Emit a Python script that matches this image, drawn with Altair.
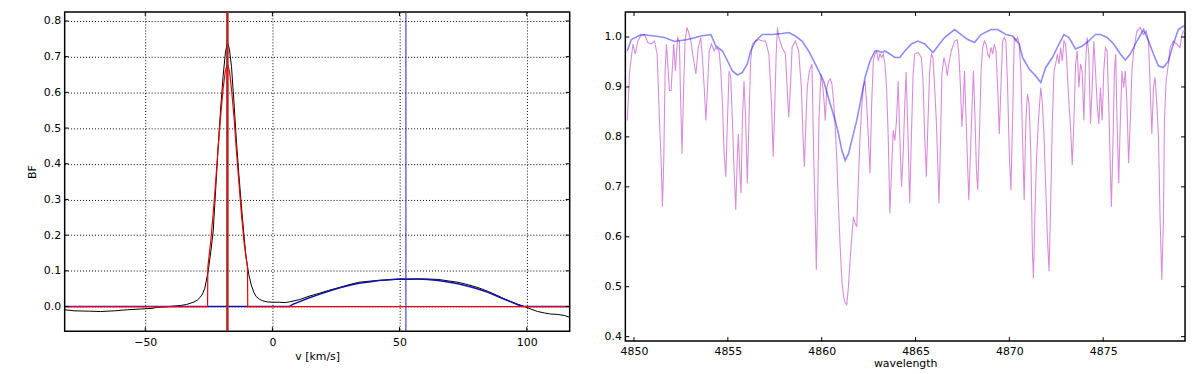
import altair as alt
import pandas as pd

# ---------------- Left panel: broadening function ----------------
bf_points = [(-81.7, -0.009), (-78, -0.012), (-72, -0.013), (-67.6, -0.014), (-62, -0.012), (-57, -0.009),
             (-52, -0.007), (-47, -0.005), (-45.5, -0.002), (-42, -0.001), (-39, 0.001), (-36, 0.003),
             (-33.7, 0.006), (-31.1, 0.012), (-29.5, 0.018), (-28.5, 0.025), (-27.5, 0.035), (-26.6, 0.051),
             (-25.3, 0.097), (-24.3, 0.15), (-23.3, 0.209), (-22.3, 0.33), (-21.4, 0.44), (-20.4, 0.55),
             (-19.4, 0.645), (-18.5, 0.71), (-17.7, 0.742), (-16.9, 0.72), (-16.1, 0.673), (-15.1, 0.57),
             (-14.2, 0.469), (-13.2, 0.37), (-12.2, 0.283), (-11.2, 0.2), (-10.3, 0.135), (-9.3, 0.09),
             (-8.3, 0.06), (-7.3, 0.04), (-6.4, 0.028), (-5, 0.02), (-3.8, 0.016), (-2, 0.013), (0, 0.012),
             (2.7, 0.012), (5, 0.011), (6.6, 0.013), (8.5, 0.016), (10.5, 0.019), (14, 0.028), (18.4, 0.037),
             (22, 0.045), (26.2, 0.053), (30, 0.061), (34, 0.068), (38, 0.071), (41.8, 0.073), (46, 0.075),
             (49.6, 0.076), (53, 0.076), (57.4, 0.077), (61, 0.077), (65.2, 0.076), (69, 0.072), (73, 0.068),
             (77, 0.061), (80.9, 0.053), (85, 0.042), (88.7, 0.030), (91, 0.022), (93.8, 0.014), (96.5, 0.006),
             (99.2, 0.0), (102, -0.008), (104.3, -0.014), (107, -0.018), (109.4, -0.021), (112, -0.022),
             (114.8, -0.025), (116.9, -0.03)]
fit_blue_points = [(-81.7, 0), (6.6, 0), (8, 0.006), (10.5, 0.013), (14, 0.023), (18.4, 0.034), (22, 0.043),
                   (26.2, 0.052), (30, 0.059), (34, 0.065), (38, 0.069), (41.8, 0.073), (46, 0.075),
                   (49.6, 0.077), (53, 0.077), (57.4, 0.077), (61, 0.076), (65.2, 0.073), (69, 0.069),
                   (73, 0.064), (77, 0.057), (80.9, 0.049), (85, 0.039), (88.7, 0.028), (91, 0.021),
                   (93.8, 0.013), (96.5, 0.005), (98.8, 0), (116.9, 0)]
fit_red_points = [(-81.7, 0), (-25.5, 0), (-25.4, 0.11), (-24.3, 0.18), (-23.3, 0.26), (-22.3, 0.35),
                  (-21.4, 0.44), (-20.4, 0.53), (-19.4, 0.61), (-18.5, 0.66), (-17.7, 0.68), (-16.9, 0.66),
                  (-16.1, 0.61), (-15.1, 0.53), (-14.2, 0.44), (-13.2, 0.35), (-12.2, 0.26), (-11.0, 0.17),
                  (-9.8, 0.11), (-9.7, 0), (116.9, 0)]
rv_red = [-17.7]
rv_blue = [52.5]
left_xticks = [-50, 0, 50, 100]
left_yticks = [0.0, 0.1, 0.2, 0.3, 0.4, 0.5, 0.6, 0.7, 0.8]

# ---------------- Right panel: spectra ----------------
pink_points = [
    (4849.645, 0.833), (4849.769, 0.932), (4849.945, 0.986), (4850.069, 0.966), (4850.21, 0.992),
    (4850.351, 1.002), (4850.563, 1.005), (4850.74, 0.989), (4850.916, 0.986), (4851.093, 0.992),
    (4851.234, 0.966), (4851.358, 0.833), (4851.446, 0.753), (4851.517, 0.660), (4851.587, 0.753),
    (4851.658, 0.932), (4851.729, 0.986), (4851.799, 0.946), (4851.888, 0.893), (4851.976, 0.893),
    (4852.064, 0.952), (4852.117, 0.986), (4852.206, 0.932), (4852.329, 0.999), (4852.418, 0.992),
    (4852.47, 0.899), (4852.559, 0.766), (4852.647, 0.899), (4852.718, 0.992), (4852.824, 1.019),
    (4852.947, 1.005), (4853.036, 0.992), (4853.124, 0.966), (4853.301, 0.926), (4853.424, 0.979),
    (4853.565, 0.999), (4853.654, 0.952), (4853.742, 0.899), (4853.83, 0.833), (4853.919, 0.899),
    (4854.007, 0.972), (4854.131, 0.986), (4854.272, 0.972),
    (4854.361, 0.979), (4854.538, 0.972), (4854.626, 0.932), (4854.714, 0.866), (4854.803, 0.766),
    (4854.891, 0.720), (4854.979, 0.833), (4855.067, 0.932), (4855.156, 0.919), (4855.244, 0.833),
    (4855.332, 0.733), (4855.421, 0.654), (4855.509, 0.766), (4855.562, 0.806), (4855.633, 0.733),
    (4855.703, 0.687), (4855.774, 0.833), (4855.862, 0.912), (4855.95, 0.833), (4856.039, 0.707),
    (4856.127, 0.833), (4856.215, 0.952), (4856.304, 0.986), (4856.48, 0.992), (4856.657, 0.995),
    (4856.833, 0.992), (4857.01, 0.992), (4857.187, 0.966), (4857.328, 0.866), (4857.416, 0.760),
    (4857.504, 0.866), (4857.575, 0.966), (4857.646, 1.019), (4857.716, 0.999), (4857.893, 0.979),
    (4858.07, 0.966), (4858.158, 0.899), (4858.246, 0.839), (4858.335, 0.899), (4858.423, 0.979),
    (4858.599, 0.992), (4858.776, 0.972), (4858.917, 0.899), (4859.006, 0.800), (4859.076, 0.740),
    (4859.165, 0.833), (4859.235, 0.899), (4859.341, 0.932), (4859.482, 0.946),
    (4859.573, 0.766), (4859.661, 0.634), (4859.714, 0.534), (4859.785, 0.667), (4859.855, 0.833),
    (4859.961, 0.926), (4860.067, 0.899), (4860.138, 0.866), (4860.191, 0.833), (4860.279, 0.899),
    (4860.367, 0.912), (4860.456, 0.916), (4860.544, 0.906), (4860.632, 0.873), (4860.721, 0.820),
    (4860.809, 0.753), (4860.897, 0.660), (4860.985, 0.581), (4861.074, 0.514), (4861.162, 0.481),
    (4861.25, 0.468), (4861.339, 0.464), (4861.427, 0.501), (4861.515, 0.554), (4861.604, 0.600),
    (4861.692, 0.640), (4861.78, 0.627), (4861.868, 0.620), (4861.957, 0.713), (4862.045, 0.800),
    (4862.133, 0.859), (4862.222, 0.899), (4862.31, 0.912), (4862.398, 0.866), (4862.487, 0.800),
    (4862.575, 0.727), (4862.663, 0.866), (4862.751, 0.952), (4862.84, 0.966), (4862.928, 0.972),
    (4863.016, 0.952), (4863.105, 0.966), (4863.193, 0.959), (4863.281, 0.966), (4863.37, 0.946),
    (4863.458, 0.899), (4863.546, 0.800), (4863.634, 0.647), (4863.723, 0.733), (4863.811, 0.813),
    (4863.899, 0.793), (4863.988, 0.833), (4864.076, 0.912), (4864.164, 0.800), (4864.253, 0.700),
    (4864.341, 0.766), (4864.429, 0.866), (4864.5, 0.93), (4864.6, 0.80), (4864.69, 0.667),
    (4864.78, 0.80), (4864.872, 0.926),
    (4864.96, 0.966), (4865.136, 0.969), (4865.313, 0.959), (4865.401, 0.912), (4865.49, 0.800),
    (4865.578, 0.720), (4865.666, 0.833), (4865.755, 0.932), (4865.843, 0.966), (4865.931, 0.959),
    (4866.019, 0.899), (4866.108, 0.833), (4866.196, 0.733), (4866.249, 0.667), (4866.337, 0.800),
    (4866.408, 0.926), (4866.514, 0.959), (4866.638, 0.939), (4866.69, 0.922), (4866.779, 0.946),
    (4866.902, 0.972), (4867.079, 0.992), (4867.22, 0.995), (4867.309, 0.966), (4867.397, 0.899),
    (4867.468, 0.820), (4867.538, 0.866), (4867.609, 0.932), (4867.697, 0.833), (4867.785, 0.733),
    (4867.838, 0.673), (4867.927, 0.766), (4868.015, 0.866), (4868.086, 0.932), (4868.174, 0.833),
    (4868.245, 0.733), (4868.315, 0.693), (4868.404, 0.800), (4868.492, 0.932), (4868.58, 0.979),
    (4868.668, 0.992), (4868.757, 0.986), (4868.845, 0.966), (4868.933, 0.959), (4869.022, 0.979),
    (4869.11, 0.966), (4869.198, 0.986), (4869.287, 0.972), (4869.375, 0.899), (4869.463, 0.806),
    (4869.551, 0.899), (4869.64, 0.992), (4869.728, 0.999),
    (4869.818, 0.992), (4869.907, 0.899), (4869.995, 0.766), (4870.083, 0.693), (4870.171, 0.833),
    (4870.26, 0.999), (4870.348, 0.992), (4870.436, 0.999), (4870.525, 0.986), (4870.613, 0.932),
    (4870.701, 0.800), (4870.79, 0.673), (4870.878, 0.833), (4870.966, 0.886), (4871.054, 0.866),
    (4871.143, 0.766), (4871.231, 0.567), (4871.284, 0.517), (4871.355, 0.634), (4871.443, 0.753),
    (4871.549, 0.833), (4871.673, 0.899), (4871.761, 0.866), (4871.849, 0.800), (4871.937, 0.700),
    (4872.026, 0.600), (4872.114, 0.531), (4872.202, 0.667), (4872.291, 0.833), (4872.379, 0.932),
    (4872.467, 0.946), (4872.556, 0.966), (4872.644, 0.946), (4872.732, 0.979), (4872.82, 0.952),
    (4872.909, 0.992), (4872.997, 0.986), (4873.085, 0.932), (4873.174, 0.866), (4873.262, 0.820),
    (4873.35, 0.743), (4873.439, 0.833), (4873.527, 0.946), (4873.615, 0.972), (4873.703, 0.899),
    (4873.792, 0.946), (4873.88, 0.932), (4873.968, 0.833), (4874.057, 0.946), (4874.145, 0.999),
    (4874.233, 0.966), (4874.322, 0.826), (4874.41, 0.899),
    (4874.5, 0.992), (4874.588, 0.932), (4874.677, 0.866), (4874.765, 0.826), (4874.853, 0.899),
    (4874.942, 0.833), (4875.03, 0.932), (4875.118, 0.979), (4875.206, 0.972), (4875.295, 0.866),
    (4875.383, 0.733), (4875.436, 0.660), (4875.507, 0.766), (4875.595, 0.932), (4875.666, 0.966),
    (4875.736, 0.833), (4875.825, 0.707), (4875.913, 0.833), (4876.001, 0.932), (4876.089, 0.899),
    (4876.178, 0.932), (4876.266, 0.866), (4876.354, 0.747), (4876.443, 0.833), (4876.531, 0.932),
    (4876.619, 0.972), (4876.708, 0.992), (4876.796, 1.012), (4876.972, 1.019), (4877.149, 1.005),
    (4877.29, 1.012), (4877.414, 0.992), (4877.502, 0.899), (4877.591, 0.806), (4877.679, 0.899),
    (4877.767, 0.919), (4877.855, 0.866), (4877.944, 0.800), (4878.032, 0.634), (4878.12, 0.514),
    (4878.209, 0.634), (4878.262, 0.833), (4878.35, 0.912), (4878.474, 0.946), (4878.562, 0.979),
    (4878.738, 0.992), (4878.915, 0.986), (4879.092, 0.979), (4879.18, 1.002), (4879.268, 1.012),
    (4879.357, 1.012)]
blue_points = [
    (4849.645, 0.972), (4849.857, 0.995), (4850.387, 1.005), (4851.093, 1.002), (4851.623, 0.999),
    (4852.153, 0.991), (4852.859, 0.995), (4853.565, 1.002), (4854.095, 1.005),
    (4854.361, 0.982), (4854.714, 0.972), (4855.067, 0.946), (4855.244, 0.932), (4855.509, 0.924),
    (4855.774, 0.929), (4856.039, 0.946), (4856.215, 0.972), (4856.48, 0.992), (4856.833, 1.005),
    (4857.363, 1.005), (4857.893, 1.007), (4858.246, 1.009), (4858.599, 1.002), (4858.952, 0.992),
    (4859.306, 0.972), (4859.749, 0.939), (4860.102, 0.912), (4860.456, 0.866), (4860.721, 0.833),
    (4860.897, 0.806), (4861.074, 0.773), (4861.25, 0.753), (4861.427, 0.766), (4861.604, 0.793),
    (4861.868, 0.833), (4862.045, 0.866), (4862.31, 0.919), (4862.575, 0.952), (4862.84, 0.972),
    (4863.016, 0.972), (4863.193, 0.969), (4863.37, 0.972), (4863.634, 0.966), (4863.899, 0.959),
    (4864.164, 0.959), (4864.429, 0.972), (4864.783, 0.986), (4865.136, 0.992), (4865.49, 0.986),
    (4865.931, 0.969), (4866.196, 0.982), (4866.549, 0.999), (4867.079, 1.015), (4867.432, 1.005),
    (4867.785, 0.995), (4868.139, 0.989), (4868.492, 1.005), (4869.022, 1.015), (4869.375, 1.015),
    (4869.818, 1.005), (4870.171, 1.002), (4870.525, 0.986), (4870.701, 0.959), (4871.054, 0.936),
    (4871.408, 0.922), (4871.673, 0.909), (4871.937, 0.939), (4872.291, 0.959), (4872.644, 0.986),
    (4872.909, 1.005), (4873.174, 0.999), (4873.527, 0.976), (4873.88, 0.982), (4874.233, 0.992),
    (4874.586, 1.005), (4874.853, 1.005), (4875.206, 0.999), (4875.56, 0.986), (4875.913, 0.966),
    (4876.178, 0.954), (4876.443, 0.966), (4876.796, 0.992), (4877.149, 1.015), (4877.414, 0.992),
    (4877.679, 0.966), (4877.944, 0.942), (4878.209, 0.939), (4878.474, 0.952), (4878.738, 0.986),
    (4879.003, 1.015), (4879.268, 1.022), (4879.36, 1.022)]
right_xticks = [4850, 4855, 4860, 4865, 4870, 4875]
right_yticks = [0.4, 0.5, 0.6, 0.7, 0.8, 0.9, 1.0]


def frame(points):
    return pd.DataFrame(points, columns=["x", "y"])


FONT = "DejaVu Sans"
TICK = 4

# ---------- left ----------
LW, LH = 508, 321
xs_l = alt.Scale(domain=[-81.7, 116.9], nice=False, zero=False)
ys_l = alt.Scale(domain=[-0.069, 0.825], nice=False, zero=False)
grid_kw = dict(grid=True, gridDash=[1, 2], gridColor="black", gridOpacity=1, gridWidth=1)
x_l = alt.X("x:Q", scale=xs_l, title="v [km/s]",
            axis=alt.Axis(values=left_xticks, format="d", labelPadding=5, titlePadding=4, **grid_kw))
y_l = alt.Y("y:Q", scale=ys_l, title="BF",
            axis=alt.Axis(values=left_yticks, format=".1f", labelPadding=4, titlePadding=6, **grid_kw))

bf_line = alt.Chart(frame(bf_points)).mark_line(color="black", strokeWidth=1, clip=True).encode(x=x_l, y=y_l)
blue_fit = alt.Chart(frame(fit_blue_points)).mark_line(color="#1010b0", strokeWidth=1.5, clip=True).encode(x=x_l, y=y_l)
red_fit = alt.Chart(frame(fit_red_points)).mark_line(color="#ee0000", strokeWidth=1.2, clip=True).encode(x=x_l, y=y_l)
red_v = alt.Chart(pd.DataFrame({"x": rv_red})).mark_rule(color="#bb2020", strokeWidth=2.5).encode(x=x_l)
blue_v = alt.Chart(pd.DataFrame({"x": rv_blue})).mark_rule(color="#2020c0", strokeWidth=1).encode(x=x_l)

lx = pd.DataFrame({"x": left_xticks})
ly = pd.DataFrame({"y": left_yticks})
lt_bottom = alt.Chart(lx).mark_rule(color="black").encode(x=x_l, y=alt.value(LH), y2=alt.value(LH - TICK))
lt_top = alt.Chart(lx).mark_rule(color="black").encode(x=x_l, y=alt.value(0), y2=alt.value(TICK))
lt_left = alt.Chart(ly).mark_rule(color="black").encode(y=y_l, x=alt.value(0), x2=alt.value(TICK))
lt_right = alt.Chart(ly).mark_rule(color="black").encode(y=y_l, x=alt.value(LW), x2=alt.value(LW - TICK))

left = alt.layer(bf_line, blue_fit, red_fit, red_v, blue_v, lt_bottom, lt_top, lt_left, lt_right).properties(
    width=LW, height=LH)

# ---------- right ----------
RW, RH = 563, 331
xs_r = alt.Scale(domain=[4849.54, 4879.36], nice=False, zero=False)
ys_r = alt.Scale(domain=[0.391, 1.05], nice=False, zero=False)
x_r = alt.X("x:Q", scale=xs_r, title="wavelength",
            axis=alt.Axis(values=right_xticks, format="d", labelPadding=4, titlePadding=2, grid=False))
y_r = alt.Y("y:Q", scale=ys_r, title=None,
            axis=alt.Axis(values=right_yticks, format=".1f", labelPadding=4, grid=False))

pink_line = alt.Chart(frame(pink_points)).mark_line(color="#c44fc4", opacity=0.65, strokeWidth=1.1, clip=True).encode(x=x_r, y=y_r)
blue_line = alt.Chart(frame(blue_points)).mark_line(color="#0000ff", opacity=0.45, strokeWidth=1.6, clip=True).encode(x=x_r, y=y_r)

rx = pd.DataFrame({"x": right_xticks})
ry = pd.DataFrame({"y": right_yticks})
rt_bottom = alt.Chart(rx).mark_rule(color="black").encode(x=x_r, y=alt.value(RH), y2=alt.value(RH - TICK))
rt_top = alt.Chart(rx).mark_rule(color="black").encode(x=x_r, y=alt.value(0), y2=alt.value(TICK))
rt_left = alt.Chart(ry).mark_rule(color="black").encode(y=y_r, x=alt.value(0), x2=alt.value(TICK))
rt_right = alt.Chart(ry).mark_rule(color="black").encode(y=y_r, x=alt.value(RW), x2=alt.value(RW - TICK))

right = alt.layer(pink_line, blue_line, rt_bottom, rt_top, rt_left, rt_right).properties(width=RW, height=RH)

chart = alt.hconcat(left, right, spacing=31).properties(
    padding={"left": 17, "top": 1, "right": 5, "bottom": 0},
    background="white"
).configure_view(
    stroke="black", strokeWidth=1.5
).configure_axis(
    labelFont=FONT, titleFont=FONT, labelFontSize=11, titleFontSize=11, titleFontWeight="normal",
    labelColor="black", titleColor="black", ticks=False, domain=False
)

chart.save("out.html", embed_options={"renderer": "svg", "actions": False})
